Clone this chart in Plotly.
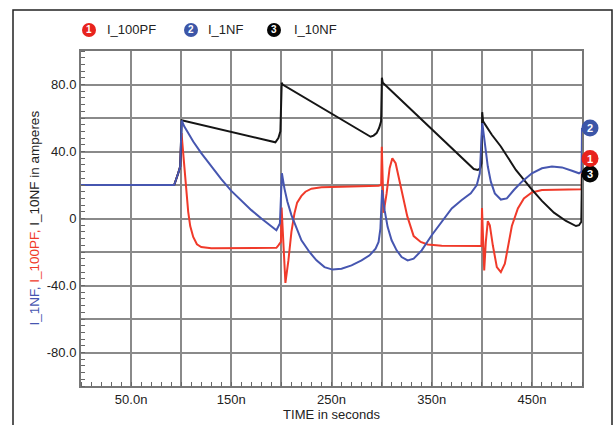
import plotly.graph_objects as go

# ---- transient currents (ns, A) ----
t_100pf = [0, 93, 97, 99, 100.3, 102, 104, 105.7, 107, 109, 112, 115.7, 120, 130, 190,
           195, 197, 199.5, 200.2, 204, 207, 210, 213, 215.7, 220, 224, 230, 240, 260, 290,
           297, 299.6, 300.2, 302, 305, 308, 310.7, 314, 319, 325.6, 332, 339, 346, 360, 399.6,
           400.2, 402.4, 404, 406, 408, 411, 415, 419, 423, 430, 436, 442, 450, 460, 480,
           499.6, 500]
i_100pf = [20, 20, 27, 31, 51, 38, 22, 11, 4, -4.5, -11, -15.4, -17, -17.8, -17.8,
           -17.5, -16, -14, 6.5, -38.5, -25, -8, 3, 9.5, 13.5, 16, 17.8, 18.6, 19, 19.2,
           19.6, 20, 42.8, 3.4, 15, 30, 36, 33, 19, 1.4, -10.5, -14, -15.5, -16.2, -16.4,
           6.3, -31, -14, -1.6, -4, -16, -29, -32, -27, -4.5, 6, 12, 15.5, 17, 17.3,
           17.5, 35.8]

t_1nf = [0, 93, 97, 99, 100.5, 103, 107, 112, 120, 130, 140, 150, 160, 170, 180,
         190, 195, 198.5, 200.5, 203, 206, 210, 215, 220, 228, 235, 243, 251, 260, 270,
         280, 288, 294, 297, 298.8, 300.5, 303, 306, 310, 315, 320, 326, 332, 340, 350,
         360, 370, 380, 389, 395, 398, 400.5, 403, 406, 409, 413, 419, 425, 432, 440,
         450, 460, 470, 480, 490, 497, 499.6, 500]
i_1nf = [20, 20, 27, 31, 58.5, 55, 51, 46, 39, 31, 23.5, 16.5, 10.5, 5, 0,
         -4.5, -7, -3, 27, 18, 10, 2, -6, -13, -20, -25, -29, -30.5, -30, -28,
         -25, -22, -18, -14, -6, 17, 5, -5, -13, -19, -23, -25, -24, -19, -10,
         -2, 6, 11, 15, 20, 27, 57, 44, 31, 22, 15, 11.3, 12, 17, 22,
         27, 30, 31, 30.5, 28.5, 27, 28, 54]

t_10nf = [0, 93, 97, 99, 100.5, 194, 197, 199, 200.3, 201.2, 289, 292, 295, 297.5, 299.5,
          300.3, 301.2, 345, 392, 396, 398.5, 399.7, 400.4, 401.3, 410, 419, 434, 449, 460, 472,
          484, 494, 497, 499.3, 500]
i_10nf = [20, 20, 27, 31, 58.7, 45.5, 48, 52, 81, 80, 48.8, 49.5, 51, 54, 58,
          84, 81, 56, 29.5, 29, 30, 33, 63.5, 58, 50, 43, 29, 18, 10.5, 3.5,
          -1.5, -4.5, -4, -2, 26.5]

series_names = ["I_100PF", "I_1NF", "I_10NF"]
series_ids = ["1", "2", "3"]

x_tick_vals = [0, 50, 100, 150, 200, 250, 300, 350, 400, 450, 500]
x_tick_text = ["", "50.0n", "", "150n", "", "250n", "", "350n", "", "450n", ""]
y_tick_vals = [-100, -80, -60, -40, -20, 0, 20, 40, 60, 80, 100]
y_tick_text = ["", "-80.0", "", "-40.0", "", "0", "", "40.0", "", "80.0", ""]

RED = "#f03a2a"
BLUE = "#4656b0"
BLACK = "#151515"
RED_DOT = "#e8231d"
BLUE_DOT = "#3c56a8"
BLACK_DOT = "#050505"
GRID = "#8a8a8a"
FONT = "Liberation Sans, Arial, sans-serif"

W, H = 614, 425
ML, MR, MT, MB = 81, 32, 51, 39
PW = W - ML - MR
PH = H - MT - MB


def px_x(px):
    return (px - ML) / PW


def px_y(py):
    return (H - MB - py) / PH


fig = go.Figure()

traces = [
    (series_names[0], t_100pf, i_100pf, RED),
    (series_names[2], t_10nf, i_10nf, BLACK),
    (series_names[1], t_1nf, i_1nf, BLUE),
]
for name, t, v, c in traces:
    fig.add_trace(go.Scatter(x=t, y=v, mode="lines", name=name,
                             line=dict(color=c, width=2),
                             showlegend=False, hoverinfo="skip"))

shapes = []
annotations = []

# outer frame (open at the bottom of the page)
shapes.append(dict(type="rect", xref="paper", yref="paper",
                   x0=px_x(13), x1=px_x(612), y0=px_y(440), y1=px_y(10),
                   line=dict(color="#222222", width=1.5), layer="below"))

# legend: numbered dots + names
dot_cols = [RED_DOT, BLUE_DOT, BLACK_DOT]
legend_dot_px = [89, 191, 274]
legend_txt_px = [105, 206, 292]
LEG_Y = 30
for i in range(3):
    shapes.append(dict(type="circle", xref="paper", yref="paper",
                       xsizemode="pixel", ysizemode="pixel",
                       xanchor=px_x(legend_dot_px[i]), yanchor=px_y(LEG_Y),
                       x0=-7, x1=7, y0=-7, y1=7,
                       fillcolor=dot_cols[i], line=dict(width=0)))
    annotations.append(dict(xref="paper", yref="paper",
                            x=px_x(legend_dot_px[i]), y=px_y(LEG_Y),
                            text="<b>%s</b>" % series_ids[i], showarrow=False,
                            font=dict(family=FONT, size=10, color="white"),
                            xanchor="center", yanchor="middle"))
    annotations.append(dict(xref="paper", yref="paper",
                            x=px_x(legend_txt_px[i]), y=px_y(LEG_Y),
                            text=series_names[i], showarrow=False,
                            font=dict(family=FONT, size=13, color="#222222"),
                            xanchor="left", yanchor="middle"))

# end-of-trace markers at the right edge
end_vals = [i_100pf[-1], i_1nf[-1], i_10nf[-1]]
END_X = px_x(590)
for i in [2, 0, 1]:
    shapes.append(dict(type="circle", xref="paper", yref="y",
                       xsizemode="pixel", ysizemode="pixel",
                       xanchor=END_X, yanchor=end_vals[i],
                       x0=-8.5, x1=8.5, y0=-8.5, y1=8.5,
                       fillcolor=dot_cols[i], line=dict(width=0), layer="above"))
    annotations.append(dict(xref="paper", yref="y", x=END_X, y=end_vals[i],
                            text="<b>%s</b>" % series_ids[i], showarrow=False,
                            font=dict(family=FONT, size=11, color="white"),
                            xanchor="center", yanchor="middle"))

# multi-coloured y title
annotations.append(dict(
    xref="paper", yref="paper", x=px_x(34), y=0.5, textangle=-90,
    text=('<span style="color:%s">I_1NF, </span>'
          '<span style="color:%s">I_100PF, </span>'
          '<span style="color:#222222">I_10NF in amperes</span>') % (BLUE, RED),
    showarrow=False, font=dict(family=FONT, size=13.5),
    xanchor="center", yanchor="middle"))

fig.update_layout(
    width=W, height=H,
    margin=dict(l=ML, r=MR, t=MT, b=MB, pad=0, autoexpand=False),
    paper_bgcolor="white", plot_bgcolor="white",
    font=dict(family=FONT, size=13, color="#222222"),
    shapes=shapes, annotations=annotations,
    xaxis=dict(range=[0, 500], tickmode="array", tickvals=x_tick_vals, ticktext=x_tick_text,
               automargin=False,
               showgrid=True, gridcolor=GRID, gridwidth=1.5, zeroline=False,
               showline=True, mirror=True, linecolor="#777777", linewidth=2,
               ticks="", tickfont=dict(size=13, color="#222222"),
               minor=dict(tickmode="linear", tick0=0, dtick=10, ticks="inside",
                          ticklen=4, tickcolor="#666666", showgrid=False),
               title=dict(text="TIME in seconds", font=dict(size=13), standoff=3)),
    yaxis=dict(range=[-100, 100], tickmode="array", tickvals=y_tick_vals, ticktext=y_tick_text,
               automargin=False,
               showgrid=True, gridcolor=GRID, gridwidth=1.5, zeroline=False,
               showline=True, mirror=True, linecolor="#777777", linewidth=2,
               ticks="", tickfont=dict(size=13, color="#222222"),
               minor=dict(tickmode="linear", tick0=-100, dtick=4, ticks="inside",
                          ticklen=4, tickcolor="#666666", showgrid=False)),
)

fig.write_html("out.html")
